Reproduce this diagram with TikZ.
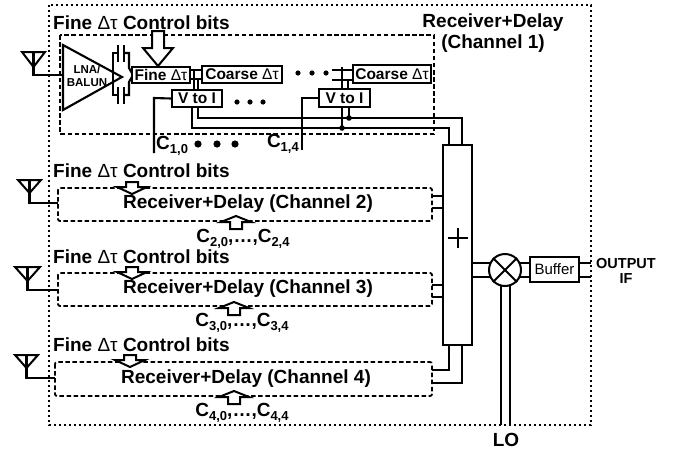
\documentclass[tikz,border=0pt]{standalone}
\usepackage{fontspec}
\setmainfont{Liberation Sans}
\newcommand{\csub}[1]{C\raisebox{-4pt}{\fontsize{13}{13}\selectfont #1}}
\newcommand{\dtau}{{\mdseries Δτ}}
\begin{document}
\begin{tikzpicture}[x=1pt,y=-1pt,
  wire/.style={line width=2.1pt},
  outerbox/.style={line width=2.5pt,dash pattern=on 2.4pt off 2.6pt},
  chbox/.style={line width=1.8pt,dash pattern=on 4.5pt off 2.6pt},
  blk/.style={draw,line width=2pt,inner sep=0pt,fill=white,font=\fontsize{15.5}{16}\selectfont\bfseries},
  lbl/.style={inner sep=0pt,font=\fontsize{19}{21}\selectfont\bfseries},
  hollow/.style={draw,line width=2pt,fill=white,line join=miter},
  ant/.style={line width=2pt,line join=miter}
]
\useasboundingbox (0,0) rectangle (677,450);
\fill[white] (0,0) rectangle (677,450);

% ---------- outer and channel-1 boxes
\draw[outerbox] (49,5) rectangle (591,425);
\draw[chbox] (60,35) rectangle (434,134);
\node[lbl,anchor=west] (fc1) at (53,23) {Fine \dtau{} Control bits};
\node[lbl,align=center] (r1) at (493,33) {Receiver+Delay\\(Channel 1)};

% ---------- antenna 1 and LNA
\draw[ant] (22,52) -- (45,52) -- (33.5,67) -- cycle;
\draw[wire] (33.5,52) -- (33.5,75) -- (63,75);
\draw[wire,line join=miter] (63,45) -- (63,110) -- (122,77) -- cycle;
\node[inner sep=0pt,align=center,font=\fontsize{11.5}{12.5}\selectfont\bfseries] (lna) at (87,76) {LNA/\\BALUN};

% ---------- coupling capacitors
\draw[wire] (118,53) -- (113,53) -- (113,95) -- (118,95);
\draw[wire] (118,45) -- (118,62) (124,45) -- (124,62);
\draw[wire] (118,87) -- (118,104) (124,87) -- (124,104);
\draw[wire] (124,53) -- (129,53) -- (129,68) -- (133,75) -- (129,82) -- (129,95) -- (124,95);

% ---------- delay blocks
\node[blk,minimum width=58pt,minimum height=16pt] (fine) at (161,75) {Fine \dtau};
\node[blk,minimum width=80pt,minimum height=17pt] (coarse1) at (242,74.5) {Coarse \dtau};
\node[blk,minimum width=78pt,minimum height=18pt] (coarse2) at (392,74) {Coarse \dtau};
\node[blk,minimum width=50pt,minimum height=17pt] (vi1) at (197,98.5) {V to I};
\node[blk,minimum width=51pt,minimum height=18pt] (vi2) at (344.5,98) {V to I};

% big control arrow
\draw[hollow] (152,31) -- (164,31) -- (164,48) -- (173,48) -- (158,66) -- (143,48) -- (152,48) -- cycle;

% fine -> coarse junction and taps
\draw[wire] (fine.east |- 0,70) -- (coarse1.west |- 0,70);
\draw[wire] (fine.east |- 0,79) -- (coarse1.west |- 0,79);
\draw[wire] (194,70) -- (194,90);
\draw[wire] (198,79) -- (198,90);

% coarse2 input and taps
\draw[wire] (332,70) -- (coarse2.west |- 0,70);
\draw[wire] (332,80) -- (coarse2.west |- 0,80);
\draw[wire] (342,67) -- (342,89);
\draw[wire] (348,80) -- (348,89);

% current buses to summer
\draw[wire] (192,107) -- (192,128) -- (449,128) -- (449,145);
\draw[wire] (198,107) -- (198,118) -- (462,118) -- (462,145);
\draw[wire] (342,107) -- (342,128);
\draw[wire] (349,107) -- (349,118);
\fill (342,128) circle (2.8);
\fill (349,118) circle (2.8);

% control inputs
\draw[wire] (vi1.west) -- (154,98) -- (154,153);
\node[lbl,anchor=west] (c10) at (156,146) {\csub{1,0}};
\draw[wire] (vi2.west) -- (302,98) -- (302,150);
\node[lbl,anchor=east] (c14) at (299,144) {\csub{1,4}};

% ellipsis dots
\foreach \x in {298,312,326} \fill (\x,73) circle (2.6);
\foreach \x in {237,250,263} \fill (\x,102) circle (2.6);
\foreach \x in {198,217,235} \fill (\x,144) circle (3.6);

% ---------- channels 2-4
% channel 2
\draw[chbox,rounded corners=2pt] (58,188) rectangle (432,221);
\node[lbl] (ch2) at (248,204) {Receiver+Delay (Channel 2)};
\node[lbl,anchor=west] (fc2) at (53,171) {Fine \dtau{} Control bits};
\draw[hollow] (126,182) -- (138,182) -- (138,187) -- (147,187) -- (132,194) -- (117,187) -- (126,187) -- cycle;
\draw[hollow] (230,229) -- (242,229) -- (242,222) -- (251,222) -- (236,216) -- (221,222) -- (230,222) -- cycle;
\node[lbl] (cc2) at (243,239) {\csub{2,0},…,\csub{2,4}};
\draw[ant] (18,180) -- (41,180) -- (29.5,193) -- cycle;
\draw[wire] (29.5,180) -- (29.5,203) -- (58,203);

% channel 3
\draw[chbox,rounded corners=2pt] (58,273) rectangle (432,306);
\node[lbl] (ch3) at (248,289) {Receiver+Delay (Channel 3)};
\node[lbl,anchor=west] (fc3) at (53,257) {Fine \dtau{} Control bits};
\draw[hollow] (126,267) -- (138,267) -- (138,272) -- (147,272) -- (132,279) -- (117,272) -- (126,272) -- cycle;
\draw[hollow] (228,315) -- (240,315) -- (240,308) -- (249,308) -- (234,302) -- (219,308) -- (228,308) -- cycle;
\node[lbl] (cc3) at (242,323) {\csub{3,0},…,\csub{3,4}};
\draw[ant] (15,267) -- (40,267) -- (27.5,281) -- cycle;
\draw[wire] (27.5,267) -- (27.5,290) -- (58,290);

% channel 4
\draw[chbox,rounded corners=2pt] (55,362) rectangle (432,396);
\node[lbl] (ch4) at (246,379) {Receiver+Delay (Channel 4)};
\node[lbl,anchor=west] (fc4) at (53,345) {Fine \dtau{} Control bits};
\draw[hollow] (124,355) -- (136,355) -- (136,360) -- (145,360) -- (130,367) -- (115,360) -- (124,360) -- cycle;
\draw[hollow] (228,404) -- (240,404) -- (240,397) -- (249,397) -- (234,391) -- (219,397) -- (228,397) -- cycle;
\node[lbl] (cc4) at (242,413) {\csub{4,0},…,\csub{4,4}};
\draw[ant] (15,355) -- (38,355) -- (26.5,368) -- cycle;
\draw[wire] (26.5,355) -- (26.5,378) -- (55,378);

% ---------- summer
\node[draw,line width=2pt,minimum width=29pt,minimum height=200pt,inner sep=0pt] (sum) at (457.5,245) {};
\draw[wire] (448,238) -- (468,238) (458,228) -- (458,248);
\draw[wire] (432,196) -- (sum.west |- 0,196);
\draw[wire] (432,208) -- (sum.west |- 0,208);
\draw[wire] (432,285) -- (sum.west |- 0,285);
\draw[wire] (432,297) -- (sum.west |- 0,297);
\draw[wire] (432,370) -- (449,370) -- (449,345);
\draw[wire] (432,383) -- (462,383) -- (462,345);

% ---------- mixer, buffer, output
\draw[wire] (sum.east |- 0,263) -- (530,263);
\draw[wire] (sum.east |- 0,277) -- (530,277);
\draw[wire] (501,425) -- (501,270);
\draw[wire] (510,425) -- (510,270);
\node[draw,line width=2pt,circle,fill=white,minimum size=32pt,inner sep=0pt] (mix) at (505,270) {};
\draw[wire] (mix.north west) -- (mix.south east) (mix.north east) -- (mix.south west);
\node[draw,line width=2pt,minimum width=49pt,minimum height=25pt,inner sep=0pt,fill=white,font=\fontsize{15}{16}\selectfont] (buf) at (554.5,269.5) {Buffer};
\draw[wire] (buf.east |- 0,263) -- (591,263);
\draw[wire] (buf.east |- 0,277) -- (591,277);
\node[inner sep=0pt,align=center,font=\fontsize{14.5}{15}\selectfont\bfseries] (out) at (626,271) {OUTPUT\\IF};
\node[lbl] (lo) at (506,440) {LO};
\end{tikzpicture}
\end{document}
